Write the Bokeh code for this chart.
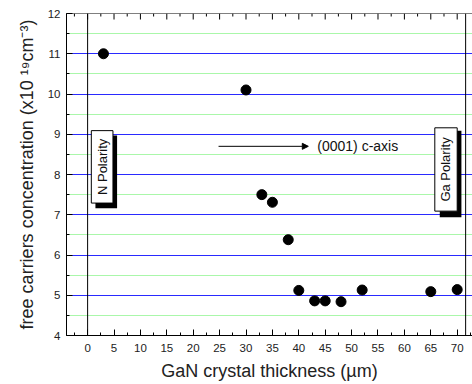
from math import pi
import numpy as np
from bokeh.plotting import figure
from bokeh.models import Span, Arrow, NormalHead, Label, SingleIntervalTicker, Range1d
from bokeh.embed import file_html
from bokeh.resources import INLINE

thickness = [3, 30, 33, 35, 38, 40, 43, 45, 48, 52, 65, 70]
concentration = [11.0, 10.1, 7.5, 7.31, 6.38, 5.12, 4.86, 4.86, 4.84, 5.13, 5.09, 5.14]

FONT = "Liberation Sans"
X0, X1, Y0, Y1 = -4, 72.9, 4, 12

p = figure(width=472, height=384, x_range=Range1d(X0, X1), y_range=Range1d(Y0, Y1),
           output_backend="svg", toolbar_location=None,
           min_border_left=66, min_border_right=0, min_border_top=13, min_border_bottom=49)
p.outline_line_color = None
p.background_fill_color = "white"
p.border_fill_color = "white"
p.grid.visible = False

# horizontal reference lines
major_y = np.arange(5, 12, 1)
minor_y = np.arange(4.5, 12, 1)
p.hspan(y=minor_y, line_color="#55ee55", line_width=1, line_dash="1 1")
p.hspan(y=major_y, line_color="#2a2aff", line_width=1)

p.xaxis.ticker = SingleIntervalTicker(interval=5, num_minor_ticks=2)
p.yaxis.ticker = SingleIntervalTicker(interval=1, num_minor_ticks=2)
for ax in (p.xaxis, p.yaxis):
    ax.major_tick_in = 6
    ax.major_tick_out = 0
    ax.minor_tick_in = 3
    ax.minor_tick_out = 0
    ax.axis_line_color = "black"
    ax.major_tick_line_color = "black"
    ax.minor_tick_line_color = "black"
    ax.major_label_text_font = FONT
    ax.major_label_text_font_size = "11.5px"
    ax.major_label_text_color = "#222222"
    ax.axis_label_text_font = FONT
    ax.axis_label_text_font_size = "18px"
    ax.axis_label_text_font_style = "normal"
    ax.axis_label_text_color = "#222222"

p.xaxis.axis_label = "GaN crystal thickness (µm)"
p.yaxis.axis_label = "free carriers concentration (x10 ¹⁹cm⁻³)"
p.xaxis.major_label_standoff = 8
p.xaxis.axis_label_standoff = 6
p.yaxis.major_label_standoff = 6
p.yaxis.axis_label_standoff = 8

# top frame with inward ticks
p.add_layout(Span(location=Y1, dimension="width", line_color="black", line_width=1))
top_major = np.arange(0, 75, 5)
top_minor = np.arange(-2.5, 72.5, 5)
ypx = (Y1 - Y0) / 322.0
p.segment(x0=top_major, y0=Y1, x1=top_major, y1=Y1 - 6 * ypx, line_color="black", line_width=1)
p.segment(x0=top_minor, y0=Y1, x1=top_minor, y1=Y1 - 3 * ypx, line_color="black", line_width=1)

p.add_layout(Span(location=0, dimension="height", line_color="black", line_width=1))
p.add_layout(Span(location=71.6, dimension="height", line_color="black", line_width=1))

# N Polarity box
p.quad(left=[1.48], right=[5.58], top=[8.97], bottom=[7.16], fill_color="black", line_color=None)
p.quad(left=[0.7], right=[4.8], top=[9.09], bottom=[7.29], fill_color="white", line_color="black", line_width=1)
p.add_layout(Label(x=2.75, y=8.19, text="N Polarity", angle=pi / 2, text_align="center",
                   text_baseline="middle", text_font=FONT, text_font_size="13px", text_color="#111111"))

# Ga Polarity box
p.quad(left=[66.7], right=[70.8], top=[9.09], bottom=[6.94], fill_color="black", line_color=None)
p.quad(left=[65.76], right=[70.0], top=[9.16], bottom=[7.09], fill_color="white", line_color="black", line_width=1)
p.add_layout(Label(x=67.88, y=8.125, text="Ga Polarity", angle=pi / 2, text_align="center",
                   text_baseline="middle", text_font=FONT, text_font_size="13px", text_color="#111111"))

# c-axis arrow
p.add_layout(Arrow(end=NormalHead(size=6, fill_color="black", line_color="black"),
                   x_start=24.8, y_start=8.7, x_end=41.8, y_end=8.7, line_width=1, line_color="black"))
p.add_layout(Label(x=43.5, y=8.7, text="(0001) c-axis", text_baseline="middle",
                   text_font=FONT, text_font_size="14px", text_color="#111111"))

p.scatter(thickness, concentration, size=10, color="black")

open("out.html", "w").write(file_html(p, INLINE))
